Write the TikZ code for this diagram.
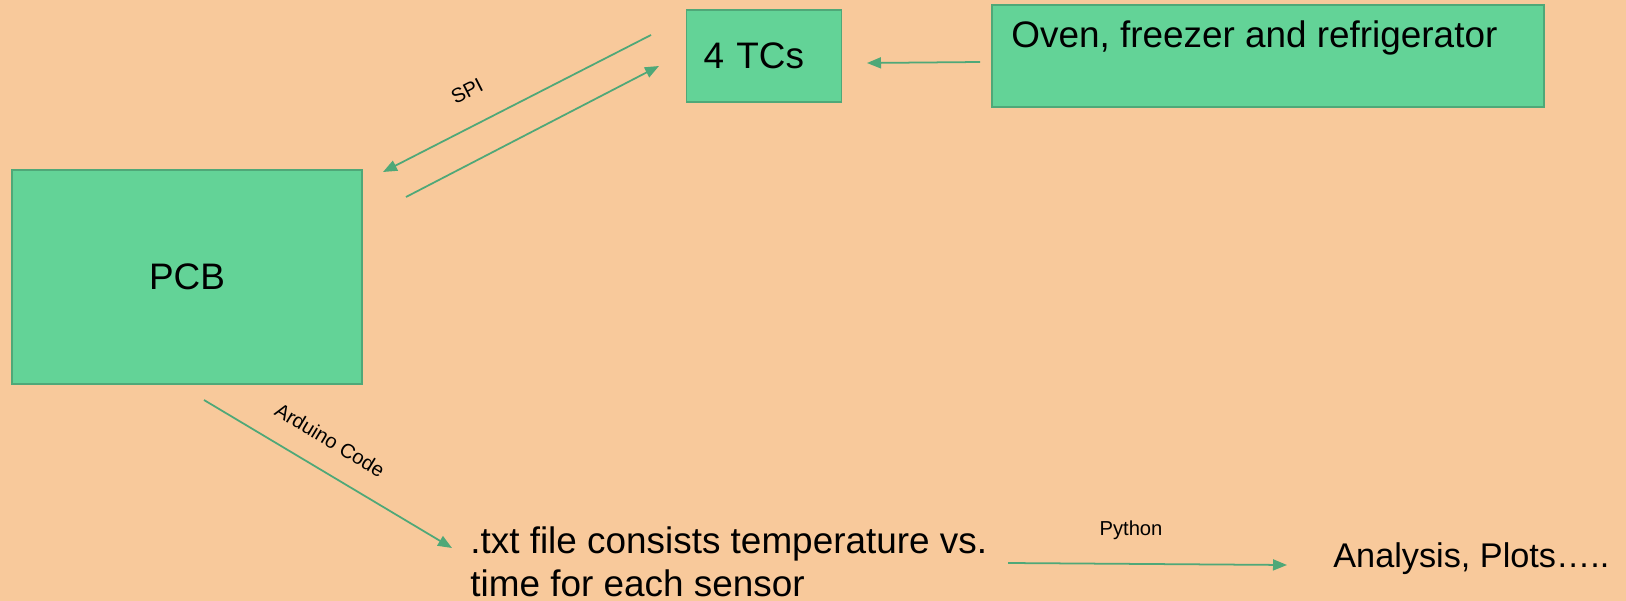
\documentclass[tikz,border=0pt]{standalone}
\usepackage{fontspec}
\setmainfont{Liberation Sans}
\usetikzlibrary{arrows.meta}

\definecolor{peach}{HTML}{F8C99B}
\definecolor{boxgreen}{HTML}{63D397}
\definecolor{edgegreen}{HTML}{4FA878}

\begin{document}
\begin{tikzpicture}[x=0.02cm,y=-0.02cm,
  box/.style={draw=edgegreen,line width=1.1pt,fill=boxgreen,inner sep=0pt},
  big/.style={font=\fontsize{21}{24.5}\selectfont},
  small/.style={font=\fontsize{11.5}{13}\selectfont},
  arr/.style={draw=edgegreen,line width=1pt,-{Triangle[length=0.28cm,width=0.22cm]}}]

\fill[peach] (0,0) rectangle (1626,601);
\useasboundingbox (0,0) rectangle (1626,601);

% -- boxes
\node[box,big,minimum width=7cm,minimum height=4.28cm] (pcb) at (187,277) {PCB};
\node[box,big,text width=2.42cm,inner xsep=0.34cm,minimum height=1.84cm,align=left] (tcs) at (764,56) {4 TCs};
\node[box,minimum width=11.06cm,minimum height=2.04cm] (oven) at (1268,56) {};
\node[big,anchor=base west,inner sep=0pt] (oventext) at (1011,48) {Oven, freezer and refrigerator};

% -- plain texts
\node[big,anchor=north west,inner sep=0pt,align=left] (txtfile) at (470,526) {.txt file consists temperature vs.\\time for each sensor};
\node[big,font=\fontsize{19.5}{22}\selectfont,anchor=base west,inner sep=0pt] (analysis) at (1333,567) {Analysis, Plots…..};

% -- arrow ends
\coordinate (ovenout) at (980,62);
\coordinate (tcsin) at (867,63);
\coordinate (spidownA) at (651,35);
\coordinate (spidownB) at (383,172);
\coordinate (spiupA) at (406,197);
\coordinate (spiupB) at (659,66);
\coordinate (ardA) at (204,400);
\coordinate (ardB) at (452,548);
\coordinate (pyA) at (1008,563);
\coordinate (pyB) at (1287,565);

% -- draw arrows
\draw[arr] (ovenout) -- (tcsin);
\draw[arr] (spidownA) -- (spidownB);
\draw[arr] (spiupA) -- (spiupB);
\draw[arr] (ardA) -- (ardB);
\draw[arr] (pyA) -- (pyB);

% -- arrow labels
\node[small,rotate=27] (spi) at (467,91) {SPI};
\node[small,rotate=-31] (arduino) at (330,440) {Arduino Code};
\node[small] (python) at (1131,530) {Python};
\end{tikzpicture}
\end{document}
